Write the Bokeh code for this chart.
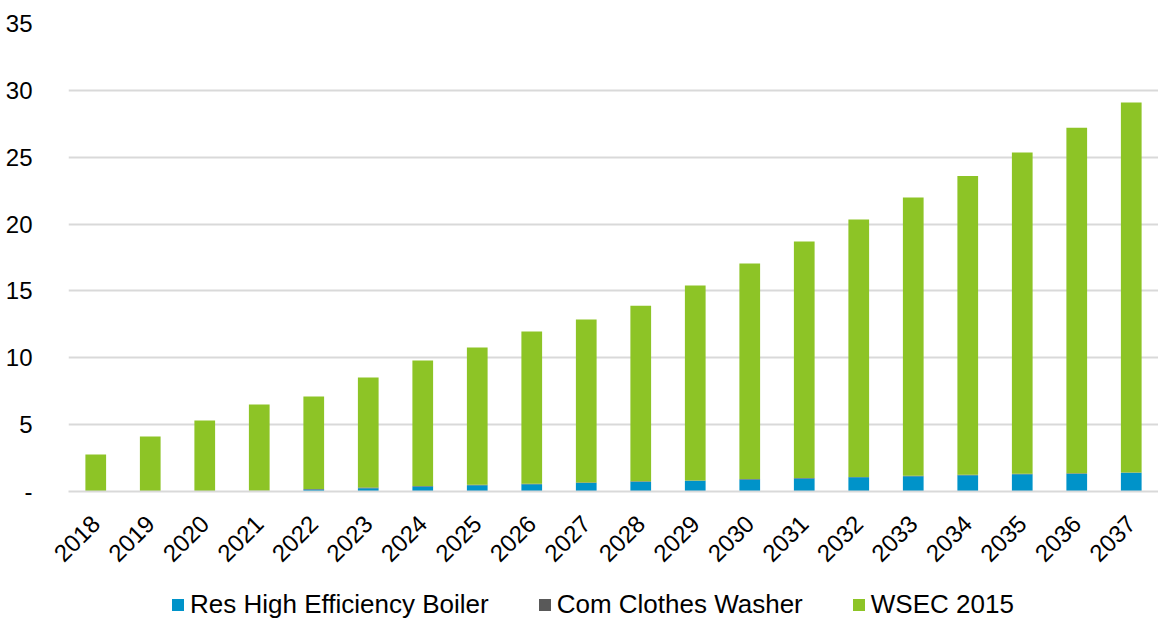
from bokeh.plotting import figure
from bokeh.layouts import column
from bokeh.models import Range1d, FactorRange, FixedTicker, Legend, LegendItem, ColumnDataSource
from bokeh.embed import file_html
from bokeh.resources import INLINE
import math

years = [str(y) for y in range(2018, 2038)]
res_boiler = [0, 0, 0, 0, 0.15, 0.25, 0.38, 0.47, 0.55, 0.64,
              0.73, 0.80, 0.90, 0.98, 1.06, 1.14, 1.22, 1.29, 1.33, 1.40]
com_washer = [0, 0, 0, 0.06, 0.03, 0.04, 0.03, 0.03, 0.03, 0.03,
              0.03, 0.03, 0.03, 0.03, 0.03, 0.03, 0.03, 0.03, 0.03, 0.03]
wsec_2015 = [2.77, 4.11, 5.31, 6.44, 6.92, 8.24, 9.39, 10.27, 11.39, 12.19,
             13.14, 14.57, 16.12, 17.69, 19.25, 20.82, 22.35, 24.03, 25.84, 27.67]
series = ["Res High Efficiency Boiler", "Com Clothes Washer", "WSEC 2015"]
colors = ["#0093C9", "#595959", "#8DC426"]
y_ticks = [0, 5, 10, 15, 20, 25, 30, 35]

source = ColumnDataSource(data=dict(year=years, res=res_boiler, com=com_washer, wsec=wsec_2015))

FONT = "Liberation Sans"

p = figure(width=1158, height=580, x_range=FactorRange(*years, range_padding=0),
           y_range=Range1d(0, 35), output_backend="svg", toolbar_location=None,
           min_border_left=68, min_border_right=0, min_border_top=23, min_border_bottom=89)
p.outline_line_color = None

p.vbar_stack(["res", "com", "wsec"], x="year", width=0.38, source=source,
             color=colors, line_color=None)

# axes
p.yaxis.ticker = FixedTicker(ticks=y_ticks)
p.yaxis.major_label_overrides = {0: "-"}
p.yaxis.axis_line_color = None
p.yaxis.major_tick_line_color = None
p.yaxis.minor_tick_line_color = None
p.yaxis.major_label_standoff = 30
p.yaxis.major_label_text_font = FONT
p.yaxis.major_label_text_font_size = "24px"
p.yaxis.major_label_text_color = "#000000"

p.xaxis.axis_line_color = "#D9D9D9"
p.xaxis.axis_line_width = 2
p.xaxis.major_tick_line_color = None
p.xaxis.minor_tick_line_color = None
p.xaxis.major_label_orientation = math.pi / 4
p.xaxis.major_label_standoff = 22
p.xaxis.major_label_text_font = FONT
p.xaxis.major_label_text_font_size = "24px"
p.xaxis.major_label_text_color = "#000000"

p.xgrid.grid_line_color = None
p.ygrid.grid_line_color = "#D9D9D9"
p.ygrid.grid_line_width = 2

# legend strip below the chart (its frame is aligned with the chart's frame)
lf = figure(width=1158, height=40, x_range=Range1d(0, 1), y_range=Range1d(0, 1),
            output_backend="svg", toolbar_location=None,
            x_axis_location=None, y_axis_location=None,
            min_border_left=0, min_border_right=0, min_border_top=0, min_border_bottom=0)
lf.outline_line_color = None
lf.grid.grid_line_color = None
# legend-only renderers, placed outside the visible range
dummies = [lf.vbar(x=[5], top=[5], bottom=[4], width=0.1, color=c, line_color=None) for c in colors]

legend = Legend(items=[LegendItem(label=s, renderers=[r]) for s, r in zip(series, dummies)],
                location=(102, 0), orientation="horizontal",
                padding=0, margin=0, spacing=48, label_standoff=5,
                glyph_width=15, glyph_height=15, label_height=20,
                label_text_font=FONT, label_text_font_size="26px",
                label_text_color="#000000",
                background_fill_alpha=0, border_line_color=None)
lf.add_layout(legend)

layout = column(p, lf, spacing=0)
open("out.html", "w").write(file_html(layout, INLINE))
